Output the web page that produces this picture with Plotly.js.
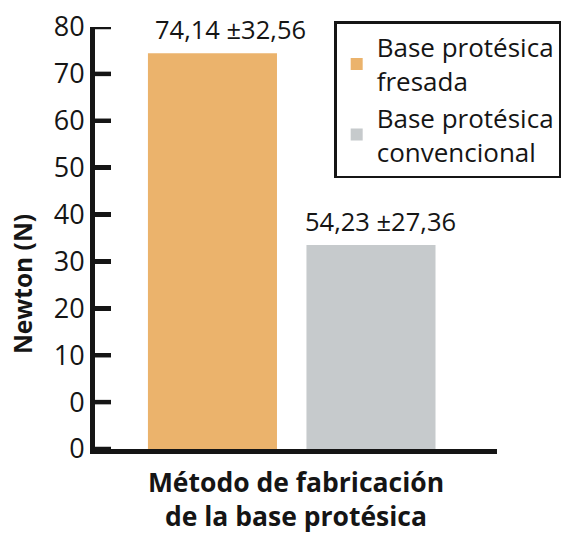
<!DOCTYPE html>
<html>
<head>
<meta charset="utf-8">
<script src="https://cdn.plot.ly/plotly-3.0.1.min.js"></script>
<style>html,body{margin:0;padding:0;background:#fff;}#chart{width:563px;height:534px;}</style>
</head>
<body>
<div id="chart"></div>
<script>
// Data
const categories = ["Base protésica fresada", "Base protésica convencional"];
const legendNames = ["Base protésica<br>fresada", "Base protésica<br>convencional"];
const barValues = [74.4, 33.5];             // bar heights as drawn on the axis
const barLabels = ["74,14 ±32,56", "54,23 ±27,36"];
const labelShift = [18, 10];
const barColors = ["#EBB36C", "#C6CACC"];
const tickValues = [-10, 0, 10, 20, 30, 40, 50, 60, 70, 80];
const tickLabels = ["0", "0", "10", "20", "30", "40", "50", "60", "70", "80"];
const axisBase = -10;

const FONT = "Open Sans, Noto Sans, sans-serif";
const INK = "#151515";
const PLOT_W = 563 - 95 - 66;
const TICK_LEN = 16;

const traces = categories.map((c, i) => ({
  type: "bar",
  name: legendNames[i],
  x: [c],
  y: [barValues[i] - axisBase],
  base: axisBase,
  width: 0.814,
  marker: { color: barColors[i], line: { width: 0 } },
  hoverinfo: "skip"
}));

// inward tick marks, one short segment per tick value (x in pixel units on a hidden overlay axis)
const tickX = [], tickY = [];
tickValues.forEach(v => { tickX.push(0, TICK_LEN, null); tickY.push(v, v, null); });
traces.push({
  type: "scatter", mode: "lines", xaxis: "x2", yaxis: "y",
  x: tickX, y: tickY, connectgaps: false, cliponaxis: false,
  line: { color: INK, width: 4.5 },
  showlegend: false, hoverinfo: "skip"
});

const annotations = categories.map((c, i) => ({
  x: c, y: barValues[i], xref: "x", yref: "y",
  text: barLabels[i], showarrow: false,
  xanchor: "center", yanchor: "bottom",
  xshift: labelShift[i], yshift: 5,
  font: { family: FONT, size: 25.5, color: INK }
}));
annotations.push({
  xref: "paper", yref: "paper", x: -0.18, y: 0.39,
  text: "<b>Newton (N)</b>", showarrow: false, textangle: -90,
  xanchor: "center", yanchor: "middle",
  font: { family: FONT, size: 24.5, color: INK }
});

const layout = {
  width: 563, height: 534,
  margin: { l: 95, r: 66, t: 27, b: 85, pad: 0, autoexpand: false },
  barmode: "overlay",
  showlegend: true,
  xaxis: {
    type: "category",
    range: [-0.741, 1.795],
    showline: true, linewidth: 5, linecolor: INK,
    showticklabels: false, ticks: "", showgrid: false, zeroline: false,
    title: { text: "<b>Método de fabricación<br>de la base protésica</b>",
             font: { family: FONT, size: 26.5, color: INK }, standoff: 26 }
  },
  xaxis2: {
    overlaying: "x", range: [0, PLOT_W], visible: false, fixedrange: true
  },
  yaxis: {
    range: [-10, 80],
    tickmode: "array", tickvals: tickValues, ticktext: tickLabels,
    ticks: "inside", ticklen: TICK_LEN, tickwidth: 4.5, tickcolor: INK,
    showline: true, linewidth: 5, linecolor: INK,
    showgrid: false, zeroline: false,
    tickfont: { family: FONT, size: 27, color: INK }
  },
  legend: {
    x: 0.595, y: 1.014, xanchor: "left", yanchor: "top",
    bordercolor: INK, borderwidth: 2.5,
    font: { family: FONT, size: 26, color: INK },
    traceorder: "normal", tracegroupgap: 17
  },
  annotations: annotations
};

Plotly.newPlot("chart", traces, layout, { displayModeBar: false, staticPlot: true });
</script>
</body>
</html>
